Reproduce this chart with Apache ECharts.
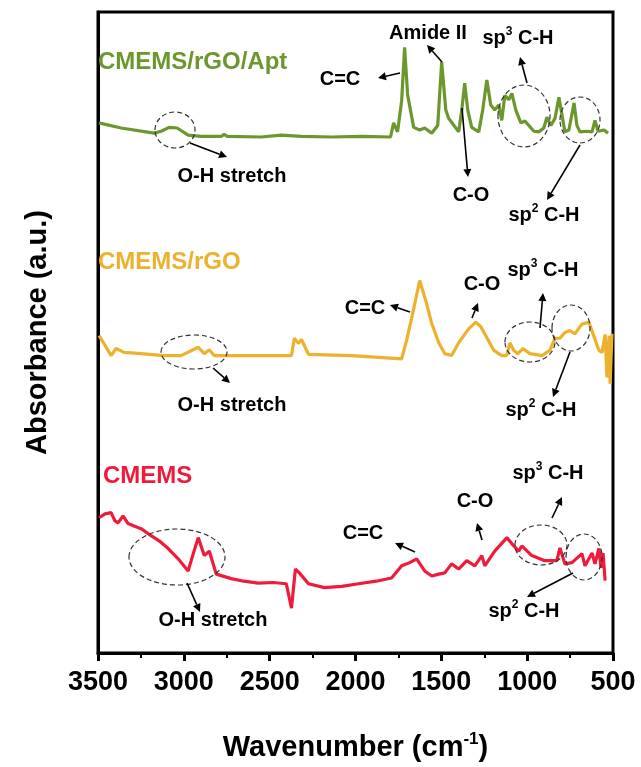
<!DOCTYPE html>
<html>
<head>
    <meta charset="utf-8">
    <title>FTIR</title>
    <script src="https://cdn.jsdelivr.net/npm/echarts@6/dist/echarts.min.js"></script>
    <style>
        html, body {margin: 0; padding: 0; background: #fff;}
    </style>
</head>
<body>
<div id="main" style="width: 641px;height:767px;"></div>

<script type="text/javascript">
    // 读图得到的数据: [波数, 吸光度(已含偏移, a.u.)]
    var aptData = [
        [3494, 82.7], [3366, 81.9], [3173, 81.1], [3132, 81.4], [3086, 82.0], [3039, 81.9],
        [2975, 80.8], [2899, 80.6], [2782, 80.6], [2765, 80.9], [2747, 80.6], [2549, 80.5],
        [2432, 80.8], [2315, 80.6], [2140, 80.5], [1965, 80.6], [1796, 80.5], [1778, 82.7],
        [1755, 81.3], [1731, 86.2], [1714, 94.5], [1696, 87.0], [1661, 82.0], [1626, 81.6],
        [1597, 81.9], [1556, 81.1], [1521, 82.3], [1498, 92.2], [1474, 84.7], [1457, 83.4],
        [1440, 82.8], [1399, 81.3], [1381, 84.7], [1364, 88.9], [1346, 84.7], [1323, 82.0],
        [1282, 81.3], [1259, 84.7], [1235, 89.4], [1212, 85.5], [1189, 84.7], [1165, 85.5],
        [1148, 83.1], [1130, 87.0], [1107, 86.3], [1089, 87.3], [1066, 84.7], [1037, 82.7],
        [1013, 83.0], [990, 82.3], [961, 81.4], [932, 81.3], [903, 81.9], [885, 83.6],
        [862, 82.3], [838, 83.4], [815, 86.7], [797, 83.9], [780, 81.3], [757, 81.6],
        [727, 85.8], [710, 82.3], [692, 81.3], [651, 81.4], [622, 81.3], [605, 83.1],
        [587, 81.4], [552, 81.6], [529, 81.1]
    ];
    var rgoData = [
        [3494, 49.5], [3459, 48.0], [3424, 46.4], [3395, 47.5], [3348, 46.9], [3249, 46.7],
        [3115, 46.4], [3016, 46.4], [2916, 47.7], [2881, 46.7], [2852, 47.3], [2823, 46.4],
        [2607, 46.4], [2373, 46.4], [2356, 49.1], [2333, 48.3], [2315, 48.9], [2274, 46.6],
        [2023, 46.4], [1731, 45.9], [1720, 45.6], [1702, 48.8], [1673, 52.2], [1626, 58.1],
        [1591, 55.0], [1556, 51.4], [1515, 48.4], [1480, 46.7], [1440, 46.4], [1399, 48.4],
        [1340, 50.6], [1299, 51.6], [1270, 50.9], [1235, 49.2], [1194, 47.2], [1148, 46.4],
        [1119, 46.4], [1101, 48.4], [1078, 47.2], [1054, 46.7], [1025, 47.5], [984, 46.7],
        [914, 46.4], [868, 47.2], [838, 49.1], [809, 49.1], [780, 50.0], [751, 50.3],
        [722, 49.8], [681, 51.3], [640, 51.6], [611, 49.4], [582, 47.2], [564, 46.9],
        [546, 49.7], [535, 43.0], [523, 49.5], [517, 42.0], [506, 49.8]
    ];
    var cmemsData = [
        [3494, 21.1], [3459, 21.7], [3424, 21.9], [3401, 20.6], [3383, 20.3], [3354, 21.4],
        [3325, 20.2], [3290, 19.8], [3249, 19.4], [3191, 18.3], [3144, 17.5], [3091, 16.3],
        [3033, 14.7], [2975, 12.8], [2945, 15.5], [2916, 18.0], [2881, 15.2], [2852, 15.9],
        [2811, 12.3], [2724, 11.6], [2650, 11.2], [2566, 10.9], [2480, 11.0], [2403, 10.8],
        [2373, 7.0], [2350, 13.1], [2327, 12.5], [2274, 10.8], [2181, 10.2], [2080, 10.4],
        [1982, 10.8], [1880, 11.2], [1790, 11.7], [1731, 13.6], [1684, 14.1], [1644, 14.7],
        [1597, 12.8], [1556, 12.0], [1515, 12.3], [1480, 12.5], [1440, 13.9], [1399, 13.1],
        [1352, 14.4], [1305, 13.6], [1264, 15.2], [1247, 13.6], [1189, 15.9], [1118, 18.0],
        [1078, 16.7], [1049, 15.9], [1031, 16.7], [973, 15.2], [897, 14.4], [827, 14.4],
        [809, 16.4], [780, 13.9], [739, 14.1], [681, 15.5], [663, 13.6], [622, 15.6],
        [605, 13.9], [582, 16.3], [570, 13.3], [558, 15.6], [546, 11.3]
    ];
    var xTicks = [3500, 3000, 2500, 2000, 1500, 1000, 500];

    var cGreen = '#6b972c', cYellow = '#ecb22e', cRed = '#ef1b3a';

    var myChart = echarts.init(document.getElementById('main'));

    // 注释文字(含上标)
    function txt(x, y, str) {
        return {
            type: 'text', x: x, y: y, z: 10,
            style: {
                text: str, fill: '#000', align: 'center', verticalAlign: 'middle',
                font: 'bold 20px "Liberation Sans", Arial, sans-serif',
                rich: {
                    s: {fontSize: 12, fontWeight: 'bold', fontFamily: 'Liberation Sans', padding: [0, 0, 12, 0]}
                }
            }
        };
    }
    function title(x, y, str, color) {
        return {
            type: 'text', x: x, y: y, z: 10,
            style: {text: str, fill: color, verticalAlign: 'middle', font: 'bold 24px "Liberation Sans", Arial, sans-serif'}
        };
    }
    function ell(cx, cy, rx, ry) {
        return {
            type: 'ellipse', z: 9,
            shape: {cx: cx, cy: cy, rx: rx, ry: ry},
            style: {fill: null, stroke: '#333', lineWidth: 1.2, lineDash: [5, 3]}
        };
    }
    function arrow(x1, y1, x2, y2) {
        var a = Math.atan2(y2 - y1, x2 - x1), L = 8, W = 4;
        var bx = x2 - L * Math.cos(a), by = y2 - L * Math.sin(a);
        return [{
            type: 'line', z: 9,
            shape: {x1: x1, y1: y1, x2: bx, y2: by},
            style: {stroke: '#000', lineWidth: 1.6}
        }, {
            type: 'polygon', z: 9,
            shape: {points: [[x2, y2], [bx - W * Math.sin(a), by + W * Math.cos(a)], [bx + W * Math.sin(a), by - W * Math.cos(a)]]},
            style: {fill: '#000'}
        }];
    }

    var graphics = [
        // CMEMS/rGO/Apt
        title(98, 62, 'CMEMS/rGO/Apt', cGreen),
        txt(340, 79, 'C=C'), txt(428, 33, 'Amide II'), txt(518, 38, 'sp{s|3} C-H'),
        txt(232, 176, 'O-H stretch'), txt(471, 195, 'C-O'), txt(544, 215, 'sp{s|2} C-H'),
        ell(175, 130, 20, 18), ell(524, 116, 26, 31), ell(580, 120, 20, 23),
        // CMEMS/rGO
        title(98, 262, 'CMEMS/rGO', cYellow),
        txt(365, 308, 'C=C'), txt(482, 284, 'C-O'), txt(543, 270, 'sp{s|3} C-H'),
        txt(232, 405, 'O-H stretch'), txt(541, 410, 'sp{s|2} C-H'),
        ell(194, 352, 33, 17), ell(530, 342, 25, 20), ell(571, 328, 19, 23),
        // CMEMS
        title(103, 476, 'CMEMS', cRed),
        txt(363, 533, 'C=C'), txt(475, 501, 'C-O'), txt(548, 473, 'sp{s|3} C-H'),
        txt(213, 620, 'O-H stretch'), txt(524, 611, 'sp{s|2} C-H'),
        ell(177, 557, 48, 28), ell(541, 545, 26, 20), ell(584, 557, 18, 23)
    ];
    var arrows = [
        [400, 73, 378, 78], [442, 62, 427, 45], [527, 83, 520, 57], [462, 108, 468, 177],
        [190, 143, 227, 157], [580, 145, 547, 200],
        [410, 312, 390, 305], [472, 318, 478, 303], [540, 328, 543, 293],
        [213, 368, 230, 383], [570, 352, 553, 397],
        [415, 552, 395, 543], [482, 540, 477, 523], [552, 518, 562, 497],
        [187, 583, 200, 612], [573, 573, 527, 597]
    ];
    arrows.forEach(function (a) {
        graphics = graphics.concat(arrow(a[0], a[1], a[2], a[3]));
    });

    var option = {
        animation: false,
        grid: {
            left: 98, right: 28, top: 12, bottom: 113,
            show: true, borderColor: '#000', borderWidth: 3
        },
        xAxis: {
            type: 'value', min: 500, max: 3500, interval: 500, inverse: true,
            name: 'Wavenumber (cm{sup|-1})', nameLocation: 'middle', nameGap: 78,
            nameTextStyle: {
                fontSize: 29, fontWeight: 'bold', color: '#000', fontFamily: 'Liberation Sans',
                rich: {sup: {fontSize: 17, fontWeight: 'bold', color: '#000', fontFamily: 'Liberation Sans', padding: [0, 0, 16, 0]}}
            },
            axisLine: {lineStyle: {color: '#000', width: 3}},
            axisTick: {length: 8, lineStyle: {width: 3, color: '#000'}},
            minorTick: {show: true, splitNumber: 2, length: 5, lineStyle: {width: 2, color: '#000'}},
            splitLine: {show: false},
            axisLabel: {
                margin: 16, fontSize: 27, fontWeight: 'bold', color: '#000', fontFamily: 'Liberation Sans',
                formatter: function (v) { return xTicks.indexOf(v) >= 0 ? String(v) : ''; }
            }
        },
        yAxis: {
            type: 'value', min: 0, max: 100,
            name: 'Absorbance (a.u.)', nameLocation: 'middle', nameGap: 46,
            nameTextStyle: {fontSize: 29, fontWeight: 'bold', color: '#000', fontFamily: 'Liberation Sans'},
            axisLine: {show: true, lineStyle: {color: '#000', width: 3}},
            axisTick: {show: false}, axisLabel: {show: false}, splitLine: {show: false}
        },
        series: [
            {name: 'CMEMS/rGO/Apt', type: 'line', data: aptData, showSymbol: false, lineStyle: {color: cGreen, width: 3.2}},
            {name: 'CMEMS/rGO', type: 'line', data: rgoData, showSymbol: false, lineStyle: {color: cYellow, width: 3.2}},
            {name: 'CMEMS', type: 'line', data: cmemsData, showSymbol: false, lineStyle: {color: cRed, width: 3.2}}
        ],
        graphic: graphics
    };
    myChart.setOption(option);
</script>
</body>
</html>
